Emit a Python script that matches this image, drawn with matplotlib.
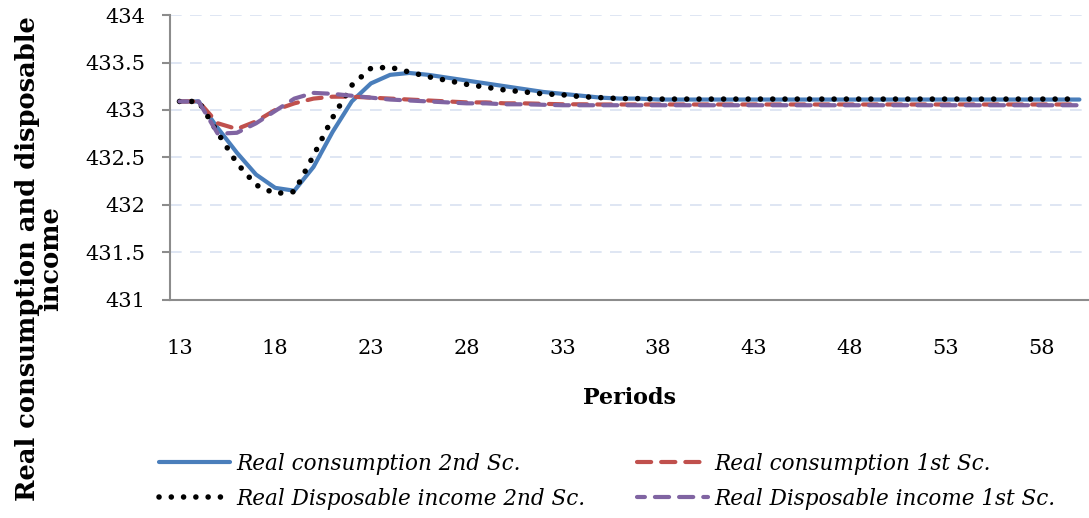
import matplotlib.pyplot as plt
from matplotlib.ticker import FixedLocator, FuncFormatter

# Periods 13..60 and the four simulated series
periods = list(range(13, 61))

cons_2nd = [433.09, 433.09, 432.81, 432.55, 432.32, 432.18, 432.15, 432.40, 432.77, 433.09,
            433.28, 433.37, 433.39, 433.37, 433.34, 433.31, 433.28, 433.25, 433.22, 433.19,
            433.17, 433.15, 433.13, 433.12, 433.12, 433.11] + [433.11] * 22

disp_2nd = [433.09, 433.09, 432.76, 432.44, 432.21, 432.12, 432.14, 432.52, 432.92, 433.26,
            433.44, 433.45, 433.40, 433.35, 433.31, 433.27, 433.24, 433.21, 433.19, 433.17,
            433.16, 433.14, 433.13, 433.12, 433.12, 433.115] + [433.115] * 22

cons_1st = [433.09, 433.09, 432.86, 432.80, 432.88, 433.00, 433.07, 433.12, 433.14, 433.14,
            433.13, 433.12, 433.11, 433.10, 433.09, 433.08, 433.08, 433.07, 433.07, 433.065,
            433.06, 433.06] + [433.058] * 26

disp_1st = [433.09, 433.09, 432.75, 432.76, 432.86, 432.99, 433.12, 433.18, 433.17, 433.15,
            433.13, 433.11, 433.10, 433.09, 433.08, 433.07, 433.07, 433.06, 433.06, 433.055,
            433.05, 433.05] + [433.05] * 26

y_ticks = [431, 431.5, 432, 432.5, 433, 433.5, 434]
x_ticks = list(range(13, 59, 5))

plt.rcParams['font.family'] = ['DejaVu Serif']

fig = plt.figure(figsize=(10.89, 5.18), dpi=100)
ax = fig.add_axes([0.156, 0.421, 0.844, 0.55])

l1, = ax.plot(periods, cons_2nd, color='#4a7ebb', lw=3.0, solid_capstyle='round',
              label='Real consumption 2nd Sc.')
l2, = ax.plot(periods, cons_1st, color='#c0504d', lw=3.0, dash_capstyle='round',
              linestyle=(0, (3.4, 2.4)), label='Real consumption 1st Sc.')
l3, = ax.plot(periods, disp_2nd, color='black', lw=4.0, dash_capstyle='round',
              linestyle=(0, (0.01, 2.2)), label='Real Disposable income 2nd Sc.')
l4, = ax.plot(periods, disp_1st, color='#8064a2', lw=3.0, dash_capstyle='round',
              linestyle=(1.5, (3.4, 2.4)), label='Real Disposable income 1st Sc.')

ax.set_xlim(12.5, 60.5)
ax.set_ylim(431, 434)
ax.yaxis.set_major_locator(FixedLocator(y_ticks))
ax.yaxis.set_major_formatter(FuncFormatter(lambda v, p: f'{v:g}'))
ax.xaxis.set_major_locator(FixedLocator(x_ticks))

for v in y_ticks[1:]:
    ax.axhline(v, color='#d9e2f1', lw=1.2, linestyle=(0, (7, 5)), zorder=0)

for s in ['top', 'right']:
    ax.spines[s].set_visible(False)
for s in ['left', 'bottom']:
    ax.spines[s].set_color('#8c8c8c')
    ax.spines[s].set_linewidth(1.5)

ax.tick_params(axis='y', length=6, width=1.5, color='#8c8c8c', pad=12, labelsize=15)
ax.tick_params(axis='x', length=0, pad=28, labelsize=15)

ax.set_xlabel('Periods', fontsize=16, fontweight='bold', labelpad=21)
fig.text(0.036, 0.5, 'Real consumption and disposable\nincome', rotation=90,
         ha='center', va='center', fontsize=18.5, fontweight='bold', linespacing=0.9)

# row-wise order in a two-column legend
fig.legend([l1, l3, l2, l4], [l.get_label() for l in (l1, l3, l2, l4)],
           loc='lower left', bbox_to_anchor=(0.128, -0.022), ncol=2, frameon=False,
           prop={'style': 'italic', 'size': 15.5}, handlelength=3.3,
           columnspacing=2.4, handletextpad=0.3, labelspacing=0.62)

plt.savefig('out.png', dpi=100)
